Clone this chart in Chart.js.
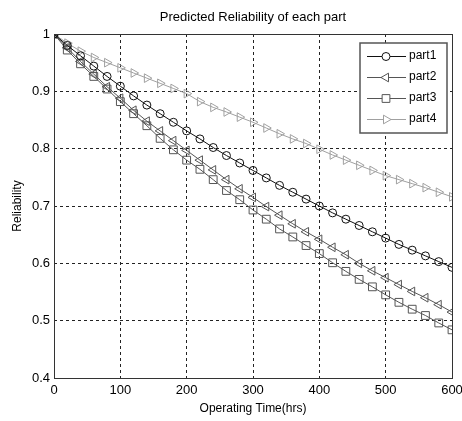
<!DOCTYPE html>
<html>
<head>
<meta charset="utf-8">
<script src="https://cdn.jsdelivr.net/npm/chart.js"></script>
<style>
  html, body { margin: 0; padding: 0; background: #fff; }
  #wrap { width: 462px; height: 421px; }
</style>
</head>
<body>
<div id="wrap"><canvas id="chart"></canvas></div>
<script>
// operating time (hrs), one marker every 20 hrs
const hours = [0, 20, 40, 60, 80, 100, 120, 140, 160, 180, 200, 220, 240, 260, 280, 300,
    320, 340, 360, 380, 400, 420, 440, 460, 480, 500, 520, 540, 560, 580, 600];

const part1 = [1.000, 0.980, 0.962, 0.944, 0.926, 0.909, 0.892, 0.876, 0.861, 0.846, 0.831,
    0.817, 0.802, 0.788, 0.775, 0.762, 0.749, 0.736, 0.724, 0.712, 0.700,
    0.688, 0.677, 0.666, 0.655, 0.644, 0.633, 0.623, 0.613, 0.603, 0.593];
const part2 = [1.000, 0.976, 0.952, 0.930, 0.908, 0.888, 0.867, 0.848, 0.831, 0.814, 0.797,
    0.780, 0.763, 0.746, 0.730, 0.715, 0.699, 0.684, 0.669, 0.655, 0.642,
    0.628, 0.615, 0.600, 0.587, 0.575, 0.563, 0.551, 0.540, 0.528, 0.515];
const part3 = [1.000, 0.972, 0.948, 0.926, 0.904, 0.882, 0.861, 0.840, 0.818, 0.798, 0.780,
    0.764, 0.746, 0.727, 0.711, 0.693, 0.677, 0.660, 0.646, 0.631, 0.617,
    0.601, 0.586, 0.572, 0.559, 0.545, 0.532, 0.520, 0.509, 0.496, 0.484];
const part4 = [1.000, 0.984, 0.970, 0.959, 0.950, 0.941, 0.932, 0.923, 0.914, 0.905, 0.896,
    0.882, 0.872, 0.864, 0.855, 0.846, 0.836, 0.826, 0.817, 0.809, 0.799,
    0.789, 0.780, 0.771, 0.762, 0.753, 0.746, 0.739, 0.732, 0.724, 0.716];

const seriesNames = ['part1', 'part2', 'part3', 'part4'];
const xTicks = [0, 100, 200, 300, 400, 500, 600];
const yTicks = [0.4, 0.5, 0.6, 0.7, 0.8, 0.9, 1];
const chartTitle = 'Predicted Reliability of each part';

const FONT = '"Liberation Sans", Arial, sans-serif';

function toPoints(values) {
    return hours.map((h, i) => ({ x: h, y: values[i] }));
}

// matlab style: line + hollow marker
function series(label, values, color, style, radius, rotation) {
    return {
        label: label,
        data: toPoints(values),
        borderColor: color,
        backgroundColor: 'rgba(0,0,0,0)',
        borderWidth: 1,
        pointStyle: style,
        pointRadius: radius,
        pointRotation: rotation,
        pointBorderColor: color,
        pointBorderWidth: 1,
        pointBackgroundColor: 'rgba(0,0,0,0)',
        tension: 0
    };
}

// box around the axes + title centred over the plot
const frame = {
    id: 'frame',
    afterDraw(chart) {
        const { ctx, chartArea: a } = chart;
        ctx.save();
        ctx.strokeStyle = '#333';
        ctx.lineWidth = 1;
        ctx.strokeRect(Math.round(a.left) + 0.5, Math.round(a.top) + 0.5,
            Math.round(a.right - a.left), Math.round(a.bottom - a.top));
        ctx.fillStyle = '#000';
        ctx.font = '13px ' + FONT;
        ctx.textAlign = 'center';
        ctx.textBaseline = 'middle';
        ctx.fillText(chartTitle, (a.left + a.right) / 2, 17);
        ctx.restore();
    }
};

// legend box in the top right corner
const boxLegend = {
    id: 'boxLegend',
    afterDraw(chart) {
        const ctx = chart.ctx;
        const x0 = 360, y0 = 43, w = 87, h = 90;
        ctx.save();
        ctx.fillStyle = '#fff';
        ctx.fillRect(x0, y0, w, h);
        ctx.strokeStyle = '#555';
        ctx.lineWidth = 1.5;
        ctx.strokeRect(x0, y0, w, h);
        ctx.font = '12px ' + FONT;
        ctx.textBaseline = 'middle';
        chart.data.datasets.forEach((ds, i) => {
            const y = y0 + 13 + i * 21;
            ctx.strokeStyle = ds.borderColor;
            ctx.lineWidth = 1;
            ctx.beginPath();
            ctx.moveTo(x0 + 7, y + 0.5);
            ctx.lineTo(x0 + 46, y + 0.5);
            ctx.stroke();
            ctx.fillStyle = '#fff';
            Chart.helpers.drawPoint(ctx, {
                pointStyle: ds.pointStyle,
                rotation: ds.pointRotation,
                radius: ds.pointRadius,
                borderWidth: 1
            }, x0 + 26, y + 0.5);
            ctx.fillStyle = '#000';
            ctx.fillText(ds.label, x0 + 49, y);
        });
        ctx.restore();
    }
};

const grid = {
    color: '#222',
    lineWidth: 1,
    drawTicks: false
};

new Chart(document.getElementById('chart'), {
    type: 'line',
    data: {
        datasets: [
            series(seriesNames[0], part1, '#111', 'circle', 4, 0),
            series(seriesNames[1], part2, '#555', 'triangle', 5, -90),
            series(seriesNames[2], part3, '#555', 'rect', 5.5, 0),
            series(seriesNames[3], part4, '#a0a0a0', 'triangle', 5, 90)
        ]
    },
    options: {
        responsive: true,
        maintainAspectRatio: false,
        animation: false,
        layout: { padding: { left: 0, right: 0, top: 34, bottom: 0 } },
        plugins: {
            legend: { display: false },
            tooltip: { enabled: false },
            title: { display: false }
        },
        scales: {
            x: {
                type: 'linear',
                min: 0,
                max: 600,
                afterBuildTicks: s => { s.ticks = xTicks.map(v => ({ value: v })); },
                border: { display: false, dash: [3, 3] },
                grid: grid,
                ticks: {
                    color: '#000',
                    padding: 5,
                    maxRotation: 0,
                    font: { family: FONT, size: 13 }
                },
                title: {
                    display: true,
                    text: 'Operating Time(hrs)',
                    color: '#000',
                    font: { family: FONT, size: 12 },
                    padding: { top: 0, bottom: 5 }
                },
                afterFit: s => { s.height = 43; s.paddingRight = 10; s.paddingLeft = 0; }
            },
            y: {
                min: 0.4,
                max: 1,
                afterBuildTicks: s => { s.ticks = yTicks.map(v => ({ value: v })); },
                border: { display: false, dash: [3, 3] },
                grid: grid,
                ticks: {
                    color: '#000',
                    padding: 4,
                    font: { family: FONT, size: 13 },
                    callback: v => String(Math.round(v * 10) / 10)
                },
                title: {
                    display: true,
                    text: 'Reliability',
                    color: '#000',
                    font: { family: FONT, size: 12 },
                    padding: { top: 10, bottom: 0 }
                },
                afterFit: s => { s.width = 54; s.paddingTop = 0; s.paddingBottom = 0; }
            }
        }
    },
    plugins: [frame, boxLegend]
});
</script>
</body>
</html>
